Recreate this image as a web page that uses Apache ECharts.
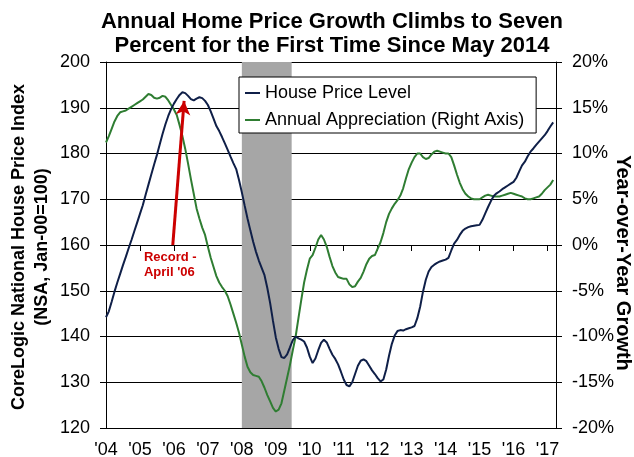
<!DOCTYPE html>
<html>
<head>
<meta charset="utf-8">
<script src="https://cdn.jsdelivr.net/npm/echarts@6/dist/echarts.min.js"></script>
<style>
  html, body { margin: 0; padding: 0; background: #fff; }
  #chart { width: 634px; height: 457px; }
</style>
</head>
<body>
<div id="chart"></div>
<script>
// monthly index, 0 = Jan 2004; axis runs to Apr 2017
const axisMonths = 159
const yearTicks = [0, 12, 24, 36, 48, 60, 72, 84, 96, 108, 120, 132, 144, 156]
const yearLabels = ["'04", "'05", "'06", "'07", "'08", "'09", "'10", "'11", "'12", "'13", "'14", "'15", "'16", "'17"]

// CoreLogic HPI (Jan-00=100), Jan 2004 - Mar 2017
const hpi = [
  144.2, 145.5, 147.6, 149.8, 151.8, 153.7, 155.6, 157.4, 159.3, 161.1, 163.0, 164.9,
  166.8, 168.7, 171.0, 173.2, 175.4, 177.6, 179.7, 182.0, 184.3, 186.4, 188.2, 189.7,
  190.9, 191.9, 192.8, 193.4, 193.2, 192.6, 191.9, 191.6, 192.0, 192.3, 192.1, 191.5,
  190.6, 189.2, 187.6, 186.0, 184.9, 183.6, 182.2, 180.8, 179.3, 177.9, 176.6, 174.2,
  171.5, 168.6, 165.8, 163.2, 160.7, 158.5, 156.6, 155.0, 153.4, 150.6, 147.3, 143.4,
  139.8, 137.3, 135.5, 135.3, 136.1, 137.6, 139.2, 140.0, 139.6, 139.3, 138.9, 137.6,
  135.6, 134.2, 135.2, 137.0, 138.6, 139.3, 138.7, 137.3, 136.0, 135.1, 133.9, 132.3,
  130.6, 129.4, 129.1, 130.0, 131.8, 133.6, 134.7, 135.0, 134.6, 133.6, 132.6, 131.8,
  130.9, 130.2, 130.6, 132.8, 135.8, 138.4, 140.2, 141.2, 141.4, 141.3, 141.6, 141.8,
  142.0, 142.3, 144.0, 146.5, 149.8, 152.4, 154.2, 155.2, 155.7, 156.1, 156.4, 156.6,
  156.8, 157.2, 158.8, 160.3, 161.1, 162.2, 163.1, 163.6, 163.9, 164.1, 164.2, 164.3,
  164.4, 165.5, 166.9, 168.3, 169.6, 170.7, 171.3, 171.7, 172.2, 172.6, 173.0, 173.4,
  173.8, 174.7, 176.1, 177.4, 178.2, 179.4, 180.4, 181.1, 181.9, 182.6, 183.3, 184.0,
  184.9, 185.9, 186.8
]

// year-over-year change, percent
const yoy = [
  11.2, 11.9, 12.7, 13.5, 14.1, 14.5, 14.6, 14.7, 14.9, 15.1, 15.3, 15.5,
  15.7, 15.9, 16.2, 16.5, 16.4, 16.1, 16.0, 16.1, 16.3, 16.2, 15.8, 15.3,
  14.8, 14.2, 13.1, 11.9, 10.5, 8.9, 7.2, 5.6, 4.0, 2.9, 1.9, 1.1,
  -0.2, -1.4, -2.4, -3.4, -4.1, -4.6, -5.0, -5.6, -6.5, -7.5, -8.5, -9.6,
  -10.9, -12.2, -13.3, -13.9, -14.2, -14.3, -14.4, -14.9, -15.6, -16.4, -17.1, -17.8,
  -18.2, -18.0, -17.3, -15.9, -14.5, -13.1, -11.5, -10.0, -8.0, -6.0, -4.1, -2.7,
  -1.5, -1.1, -0.3, 0.6, 1.1, 0.6, -0.2, -1.3, -2.3, -3.0, -3.5, -3.6,
  -3.7, -3.7, -4.3, -4.6, -4.5, -4.0, -3.6, -2.9, -2.1, -1.5, -1.2, -1.1,
  -0.4, 0.3, 1.3, 2.5, 3.4, 4.0, 4.5, 4.9, 5.4, 6.2, 7.3, 8.3,
  9.0, 9.6, 10.0, 10.0, 9.6, 9.4, 9.5, 9.9, 10.2, 10.3, 10.2, 10.1,
  10.0, 10.0, 9.6, 8.7, 7.7, 6.8, 6.1, 5.6, 5.3, 5.1, 5.0, 5.0,
  5.0, 5.2, 5.4, 5.5, 5.4, 5.3, 5.3, 5.3, 5.4, 5.5, 5.6, 5.7,
  5.6, 5.5, 5.4, 5.3, 5.1, 5.0, 5.0, 5.1, 5.2, 5.3, 5.6, 6.0,
  6.3, 6.6, 7.1
]

const recession = [48, 65.6]          // Jan 2008 to mid 2009
const recordArrow = [[23.6, 160], [27.6, 191.5]]
const recordLabelAt = [13.4, 155.7]

const FONT = 'Liberation Sans, Arial, sans-serif'
const NAVY = '#0f1f48'
const GREEN = '#2f7d32'
const RED = '#cc0000'

const chart = echarts.init(document.getElementById('chart'))

chart.setOption({
  animation: false,
  textStyle: { fontFamily: FONT, color: '#000' },
  title: {
    text: 'Annual Home Price Growth Climbs to Seven\nPercent for the First Time Since May 2014',
    left: 332,
    top: 10,
    padding: 0,
    textAlign: 'center',
    textStyle: { fontFamily: FONT, fontSize: 22, fontWeight: 'bold', lineHeight: 24, color: '#000' }
  },
  grid: { left: 106, right: 78, top: 62, bottom: 29, outerBoundsMode: 'none', containLabel: false },
  legend: {
    data: ['House Price Level', 'Annual Appreciation (Right Axis)'],
    orient: 'vertical',
    left: 239,
    top: 77,
    padding: [7, 12, 4, 6],
    itemGap: 9,
    itemWidth: 15,
    itemHeight: 2,
    icon: 'rect',
    backgroundColor: '#fff',
    borderColor: '#000',
    borderWidth: 1,
    borderRadius: 0,
    textStyle: { fontFamily: FONT, fontSize: 18, color: '#000' }
  },
  xAxis: {
    type: 'value',
    min: 0,
    max: axisMonths,
    axisLine: { show: true, lineStyle: { color: '#000', width: 1 } },
    axisTick: { show: true, length: 6, customValues: yearTicks, lineStyle: { color: '#000' } },
    axisLabel: {
      customValues: yearTicks,
      margin: 13,
      fontSize: 18,
      color: '#000',
      formatter: v => yearLabels[yearTicks.indexOf(v)] || ''
    },
    splitLine: { show: false }
  },
  yAxis: [
    {
      type: 'value',
      min: 120,
      max: 200,
      interval: 10,
      position: 'left',
      axisLine: { show: true, lineStyle: { color: '#000', width: 1 } },
      axisTick: { show: true, length: 6, lineStyle: { color: '#000' } },
      axisLabel: { fontSize: 18, color: '#000', margin: 16 },
      splitLine: { show: true, lineStyle: { color: '#000', width: 1 } }
    },
    {
      type: 'value',
      min: -20,
      max: 20,
      interval: 5,
      position: 'right',
      axisLine: { show: true, lineStyle: { color: '#000', width: 1 } },
      axisTick: { show: true, length: 6, lineStyle: { color: '#000' } },
      axisLabel: { fontSize: 18, color: '#000', margin: 16, formatter: '{value}%' },
      splitLine: { show: false }
    }
  ],
  graphic: [
    {
      type: 'text',
      x: 31,
      y: 247,
      rotation: Math.PI / 2,
      style: {
        text: 'CoreLogic National House Price Index\n(NSA, Jan-00=100)',
        font: 'bold 18px ' + FONT,
        lineHeight: 23,
        textAlign: 'center',
        textVerticalAlign: 'middle',
        fill: '#000'
      }
    },
    {
      type: 'text',
      x: 623,
      y: 263,
      rotation: -Math.PI / 2,
      style: {
        text: 'Year-over-Year Growth',
        font: 'bold 20px ' + FONT,
        textAlign: 'center',
        textVerticalAlign: 'middle',
        fill: '#000'
      }
    }
  ],
  series: [
    {
      name: 'Recession',
      type: 'line',
      data: [],
      z: 1,
      silent: true,
      markArea: {
        silent: true,
        itemStyle: { color: '#a6a6a6', opacity: 1 },
        data: [[{ xAxis: recession[0] }, { xAxis: recession[1] }]]
      }
    },
    {
      name: 'Annual Appreciation (Right Axis)',
      type: 'line',
      yAxisIndex: 1,
      data: yoy.map((v, i) => [i, v]),
      showSymbol: false,
      symbol: 'none',
      z: 3,
      lineStyle: { color: GREEN, width: 2 },
      itemStyle: { color: GREEN }
    },
    {
      name: 'House Price Level',
      type: 'line',
      yAxisIndex: 0,
      data: hpi.map((v, i) => [i, v]),
      showSymbol: false,
      symbol: 'none',
      z: 4,
      lineStyle: { color: NAVY, width: 2 },
      itemStyle: { color: NAVY },
      markLine: {
        silent: true,
        symbol: ['none', 'arrow'],
        symbolSize: [11, 14],
        label: { show: false },
        lineStyle: { color: RED, width: 3, type: 'solid' },
        data: [[{ coord: recordArrow[0] }, { coord: recordArrow[1] }]]
      },
      markPoint: {
        silent: true,
        symbol: 'circle',
        symbolSize: 1,
        itemStyle: { color: 'rgba(0,0,0,0)' },
        label: {
          show: true,
          position: 'inside',
          align: 'left',
          verticalAlign: 'middle',
          formatter: "Record -\nApril '06",
          fontFamily: FONT,
          fontSize: 13,
          fontWeight: 'bold',
          lineHeight: 15,
          color: RED
        },
        data: [{ coord: recordLabelAt }]
      }
    }
  ]
})
</script>
</body>
</html>
